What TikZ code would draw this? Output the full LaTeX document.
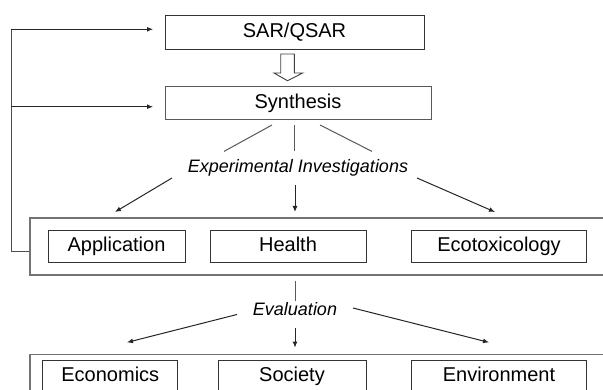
\documentclass[tikz,border=0pt]{standalone}
\usepackage{fontspec}
\setmainfont{Liberation Sans}
\usetikzlibrary{arrows.meta}
\begin{document}
\begin{tikzpicture}[x=1pt,y=-1pt,
  box/.style={draw=black!80,line width=1pt,rectangle,inner sep=0pt,text height=14.5pt,text depth=4.2pt,font=\fontsize{20}{24}\selectfont},
  outer/.style={draw=black!55,line width=1.1pt,rectangle,inner sep=0pt},
  lbl/.style={inner sep=0pt,text height=13pt,text depth=3.8pt,font=\fontsize{18}{22}\selectfont\itshape},
  arr/.style={draw=black!85,line width=1pt,-{Latex[length=6pt,width=5pt]}},
  ln/.style={draw=black!65,line width=1pt}]
\clip (0,0) rectangle (603,390);
\fill[white] (0,0) rectangle (603,390);
% top boxes
\node[box,minimum width=259pt,minimum height=34pt] (sar) at (294.5,32.3) {SAR/QSAR};
\node[box,draw=black!65,minimum width=266pt,minimum height=33.3pt] (syn) at (298,103.3) {Synthesis};
% open arrow
\draw[black!75,line width=0.9pt,fill=white] (280.7,54) -- (294.3,54) -- (294.3,73) -- (302.7,73) -- (287.5,80.7) -- (274,73) -- (280.7,73) -- cycle;
% experimental investigations
\node[lbl] (exp) at (298,168) {Experimental Investigations};
\coordinate (s1) at (272,125); \coordinate (e1) at (224,151.4);
\coordinate (s2) at (294,125); \coordinate (e2) at (294,151.4);
\coordinate (s3) at (320,125); \coordinate (e3) at (372,151.4);
\draw[ln] (s1) -- (e1);
\draw[ln] (s2) -- (e2);
\draw[ln] (s3) -- (e3);
% outer box 1
\node[outer,minimum width=590pt,minimum height=57pt] (out1) at (325,246.5) {};
\node[box,minimum width=137pt,minimum height=32.5pt] (app) at (116.5,246.3) {Application};
\node[box,minimum width=156pt,minimum height=32.5pt] (hea) at (288,246.3) {Health};
\node[box,minimum width=175pt,minimum height=32.5pt] (eco) at (499,246.3) {Ecotoxicology};
\coordinate (a1s) at (172,178); \coordinate (a1e) at (115,212);
\coordinate (a2s) at (295,185); \coordinate (a2e) at (295,212);
\coordinate (a3s) at (417,178); \coordinate (a3e) at (495,212);
\draw[arr] (a1s) -- (a1e);
\draw[arr] (a2s) -- (a2e);
\draw[arr] (a3s) -- (a3e);
% feedback
\coordinate (fb1) at (11,29.3);
\coordinate (fb2) at (11,106.7);
\coordinate (fb3) at (11,251.4);
\coordinate (t1) at (153,29.3);
\coordinate (t2) at (153,106.7);
\draw[ln,draw=black!70] (out1.west |- fb3) -- (fb3) -- (fb1);
\draw[arr] (fb1) -- (t1);
\draw[arr] (fb2) -- (t2);
% evaluation
\node[lbl] (eva) at (295,311.4) {Evaluation};
\coordinate (v1) at (295,281); \coordinate (v2) at (295,301);
\draw[ln] (v1) -- (v2);
\coordinate (b1s) at (237,314.5); \coordinate (b1e) at (127,342.4);
\coordinate (b2s) at (295,327.6); \coordinate (b2e) at (295,347.6);
\coordinate (b3s) at (353,308); \coordinate (b3e) at (489,342.4);
\draw[arr] (b1s) -- (b1e);
\draw[arr] (b2s) -- (b2e);
\draw[arr] (b3s) -- (b3e);
% outer box 2
\node[outer,minimum width=590pt,minimum height=60pt] (out2) at (325,384.5) {};
\node[box,minimum width=135.3pt,minimum height=31pt] (ecn) at (110.3,376.5) {Economics};
\node[box,minimum width=148pt,minimum height=31pt] (soc) at (292,376.5) {Society};
\node[box,minimum width=175pt,minimum height=31pt] (env) at (499,376.5) {Environment};
\end{tikzpicture}
\end{document}
